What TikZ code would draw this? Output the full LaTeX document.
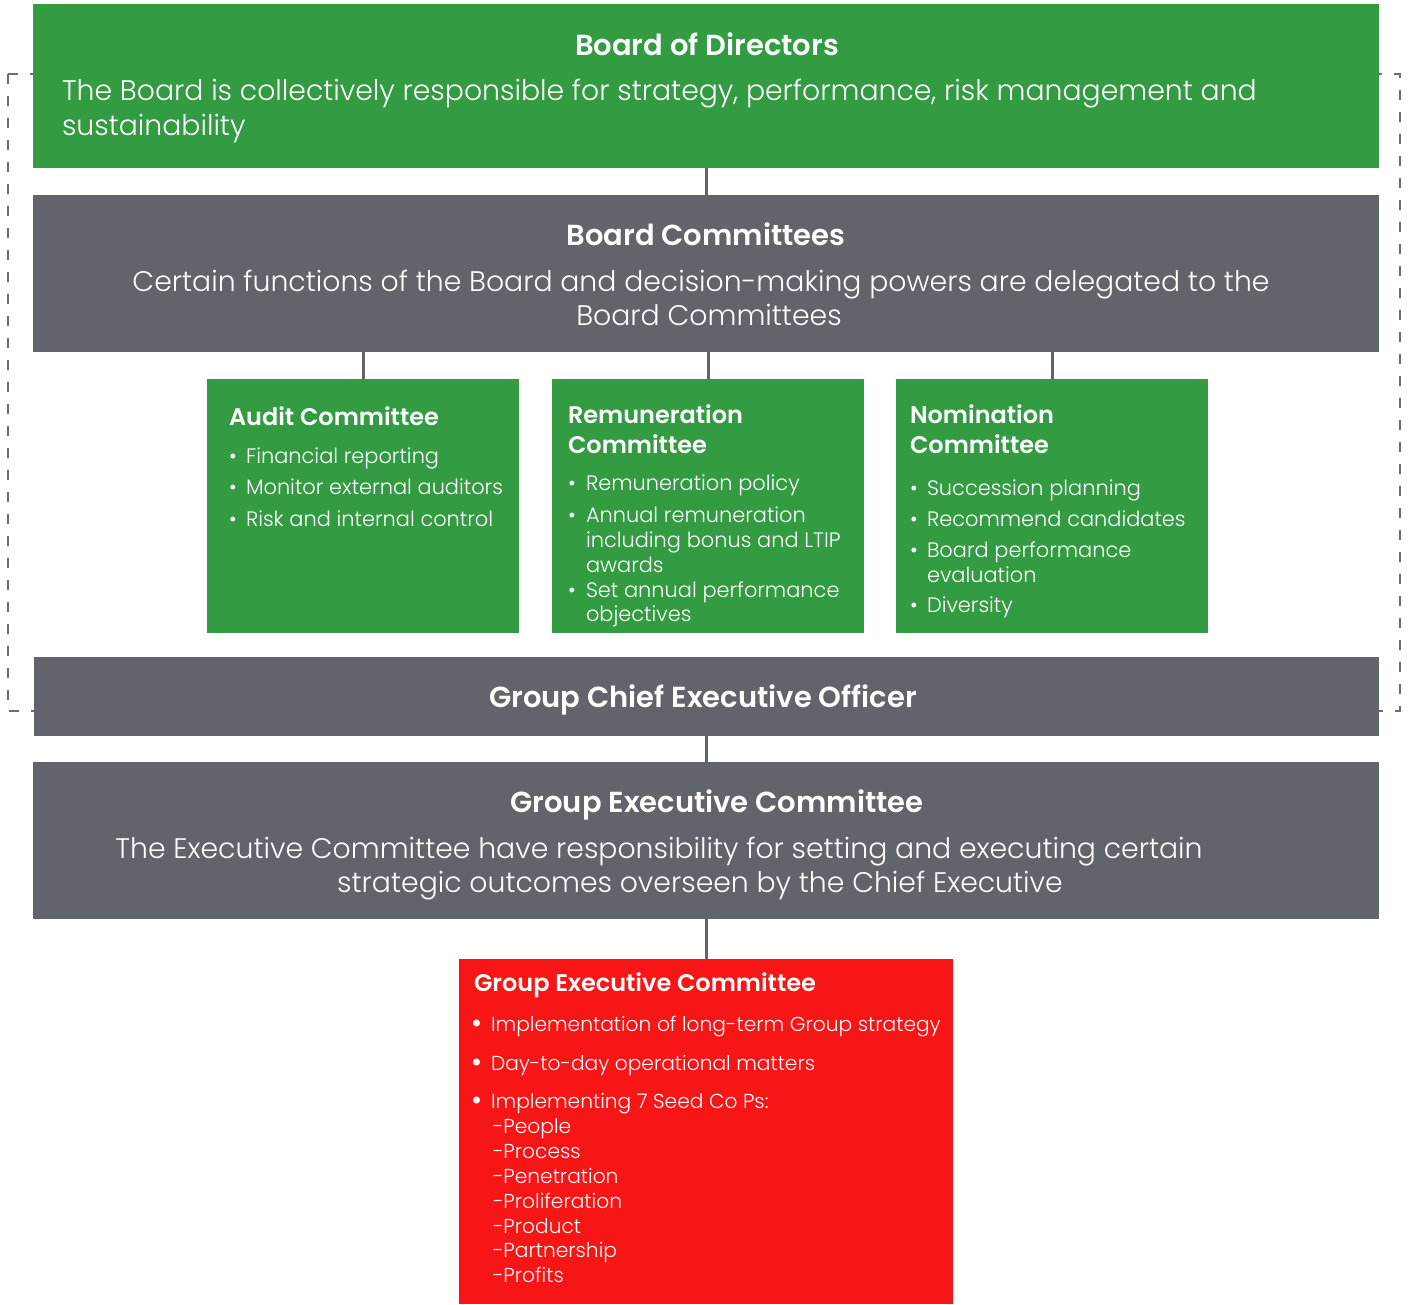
\documentclass[tikz,border=0pt]{standalone}
\usepackage{fontspec}
\setmainfont{Poppins Light}
\newfontfamily\semi{Poppins SemiBold}
\definecolor{bgreen}{HTML}{339C42}
\definecolor{bgray}{HTML}{62646C}
\definecolor{bred}{HTML}{F71515}
\definecolor{dgray}{HTML}{6B6D74}
\tikzset{
  box/.style={anchor=north west, inner sep=0pt, outer sep=0pt, draw=none},
  gbox/.style={box, fill=bgreen},
  ybox/.style={box, fill=bgray},
  rbox/.style={box, fill=bred},
  txt/.style={inner sep=0pt, outer sep=0pt, text=white},
  bigtitle/.style={txt, anchor=base, font=\semi\fontsize{29}{34}\selectfont},
  bigbody/.style={txt, font=\fontsize{28.3}{34}\selectfont},
  smtitle/.style={txt, anchor=base west, font=\semi\fontsize{24}{28}\selectfont},
  smbody/.style={txt, anchor=base west, font=\fontsize{20.9}{26}\selectfont},
  rdbody/.style={txt, anchor=base west, font=\fontsize{20.2}{25}\selectfont},
  rdbullet/.style={txt, anchor=base west, font=\fontsize{30}{30}\selectfont},
  link/.style={draw=bgray, line width=3pt},
}
\begin{document}
\begin{tikzpicture}[x=1pt,y=-1pt]
\useasboundingbox (0,0) rectangle (1411,1304);
% dashed frame
\draw[dgray, line width=2pt, dash pattern=on 10pt off 12pt] (8,74) rectangle (1400,711);
% boxes
\node[gbox, minimum width=1346pt, minimum height=164pt] (bod) at (33,4) {};
\node[ybox, minimum width=1346pt, minimum height=157pt] (bc) at (33,195) {};
\node[gbox, minimum width=312pt, minimum height=254pt] (audit) at (207,379) {};
\node[gbox, minimum width=312pt, minimum height=254pt] (rem) at (552,379) {};
\node[gbox, minimum width=312pt, minimum height=254pt] (nom) at (896,379) {};
\node[ybox, minimum width=1345pt, minimum height=79pt] (ceo) at (34,657) {};
\node[ybox, minimum width=1346pt, minimum height=157pt] (gec) at (33,762) {};
\node[rbox, minimum width=494pt, minimum height=345pt] (red) at (459,959) {};
% connectors
\draw[link] (bod.south) -- (bc.north);
\draw[link] (bc.south -| audit.north) -- (audit.north);
\draw[link] (bc.south -| rem.north) -- (rem.north);
\draw[link] (bc.south -| nom.north) -- (nom.north);
\draw[link] (ceo.south -| gec.north) -- (gec.north);
\draw[link] (gec.south) -- (gec.south |- red.north);
% Board of Directors
\node[bigtitle] (bodt) at (707,55) {Board of Directors};
\node[bigbody, anchor=base west] (bodl1) at (62,100) {The Board is collectively responsible for strategy, performance, risk management and};
\node[bigbody, anchor=base west] (bodl2) at (62,135) {sustainability};
% Board Committees
\node[bigtitle] (bct) at (706,245) {Board Committees};
\node[bigbody, anchor=base] (bcl1) at (701,291) {Certain functions of the Board and decision-making powers are delegated to the};
\node[bigbody, anchor=base] (bcl2) at (709,325) {Board Committees};
% Audit
\node[smtitle] (at) at (229,425) {Audit Committee};
\node[smbody] (ab1d) at (229,463) {•};
\node[smbody] (ab1) at (246,463) {Financial reporting};
\node[smbody] (ab2d) at (229,494) {•};
\node[smbody] (ab2) at (246,494) {Monitor external auditors};
\node[smbody] (ab3d) at (229,526) {•};
\node[smbody] (ab3) at (246,526) {Risk and internal control};
% Remuneration
\node[smtitle] (rt1) at (568,423) {Remuneration};
\node[smtitle] (rt2) at (568,453) {Committee};
\node[smbody] (rb1d) at (568,490) {•};
\node[smbody] (rb1) at (586,490) {Remuneration policy};
\node[smbody] (rb2d) at (568,522) {•};
\node[smbody] (rb2) at (586,522) {Annual remuneration};
\node[smbody] (rb2b) at (586,547) {including bonus and LTIP};
\node[smbody] (rb2c) at (586,572) {awards};
\node[smbody] (rb3d) at (568,597) {•};
\node[smbody] (rb3) at (586,597) {Set annual performance};
\node[smbody] (rb3b) at (586,621) {objectives};
% Nomination
\node[smtitle] (nt1) at (910,423) {Nomination};
\node[smtitle] (nt2) at (910,453) {Committee};
\node[smbody] (nb1d) at (910,495) {•};
\node[smbody] (nb1) at (927,495) {Succession planning};
\node[smbody] (nb2d) at (910,526) {•};
\node[smbody] (nb2) at (927,526) {Recommend candidates};
\node[smbody] (nb3d) at (910,557) {•};
\node[smbody] (nb3) at (927,557) {Board performance};
\node[smbody] (nb3b) at (927,582) {evaluation};
\node[smbody] (nb4d) at (910,612) {•};
\node[smbody] (nb4) at (927,612) {Diversity};
% CEO
\node[bigtitle] (ceot) at (703,707) {Group Chief Executive Officer};
% Group Executive Committee
\node[bigtitle] (gect) at (717,812) {Group Executive Committee};
\node[bigbody, anchor=base] (gecl1) at (659,858) {The Executive Committee have responsibility for setting and executing certain};
\node[bigbody, anchor=base] (gecl2) at (700,892) {strategic outcomes overseen by the Chief Executive};
% Red box
\node[smtitle] (redt) at (474,991) {Group Executive Committee};
\node[rdbullet] (rd1d) at (471,1033) {•};
\node[rdbody] (rd1) at (491,1031) {Implementation of long-term Group strategy};
\node[rdbullet] (rd2d) at (471,1072) {•};
\node[rdbody] (rd2) at (491,1070) {Day-to-day operational matters};
\node[rdbullet] (rd3d) at (471,1110) {•};
\node[rdbody] (rd3) at (491,1108) {Implementing 7 Seed Co Ps:};
\node[rdbody] (rp1) at (493,1133) {-People};
\node[rdbody] (rp2) at (493,1158) {-Process};
\node[rdbody] (rp3) at (493,1183) {-Penetration};
\node[rdbody] (rp4) at (493,1208) {-Proliferation};
\node[rdbody] (rp5) at (493,1233) {-Product};
\node[rdbody] (rp6) at (493,1257) {-Partnership};
\node[rdbody] (rp7) at (493,1282) {-Profits};
\end{tikzpicture}
\end{document}
